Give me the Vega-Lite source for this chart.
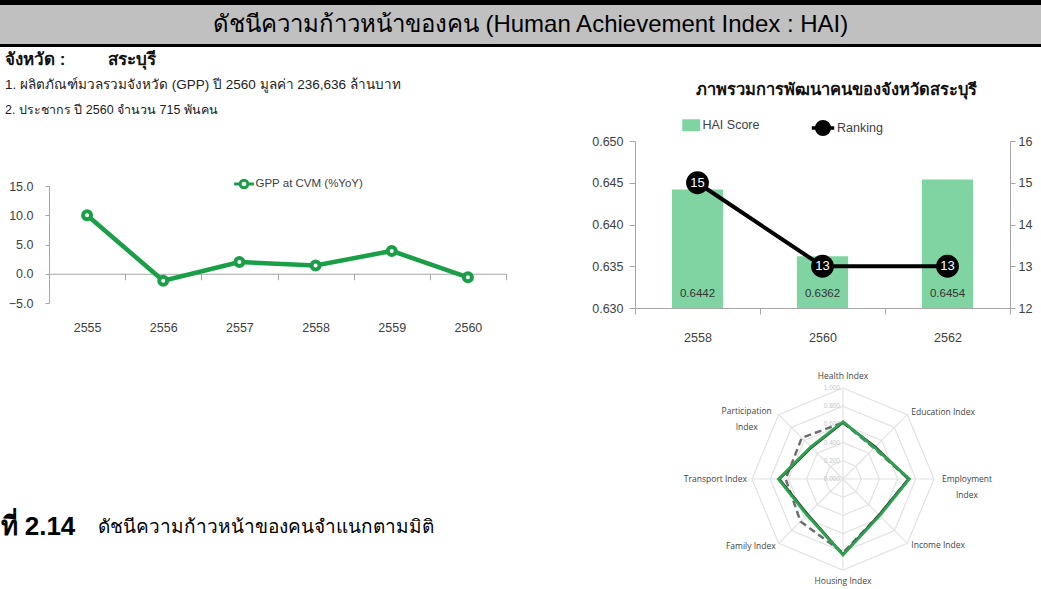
{
  "$schema": "https://vega.github.io/schema/vega-lite/v6.json",
  "padding": 0,
  "background": "white",
  "bounds": "flush",
  "spacing": 0,
  "resolve": {"scale": {"stroke": "independent", "fill": "independent"}, "legend": {"stroke": "independent", "fill": "independent"}},
  "config": {
    "view": {"stroke": null},
    "font": "Liberation Sans, sans-serif",
    "axis": {"grid": false, "labelFont": "Liberation Sans Narrow, Liberation Sans, sans-serif", "titleFont": "Liberation Sans, sans-serif"},
    "legend": {"labelFont": "Liberation Sans Narrow, Liberation Sans, sans-serif"}
  },
  "vconcat": [
    {
      "width": 1041,
      "height": 47,
      "view": {"fill": "#000000", "stroke": null},
      "data": {"values": [{"title": "ดัชนีความก้าวหน้าของคน (Human Achievement Index : HAI)"}]},
      "layer": [
        {
          "mark": {"type": "rect", "color": "#c0c0c0"},
          "encoding": {
            "y": {"datum": 5, "type": "quantitative", "scale": {"domain": [0, 47], "reverse": true, "nice": false, "zero": false}, "axis": null},
            "y2": {"datum": 44}
          }
        },
        {
          "mark": {"type": "text", "fontSize": 24, "color": "#000000", "dx": 10, "dy": 1, "baseline": "middle", "font": "Liberation Sans, sans-serif"},
          "encoding": {"text": {"field": "title", "type": "nominal"}}
        }
      ]
    },
    {
      "hconcat": [
        {
          "vconcat": [
            {
              "width": 10, "height": 26,
              "data": {"values": [{"t": "จังหวัด :\u00a0\u00a0\u00a0\u00a0\u00a0\u00a0\u00a0\u00a0\u00a0สระบุรี"}]},
              "mark": {"type": "text", "align": "left", "baseline": "middle", "fontSize": 17, "fontWeight": "bold", "color": "#111111"},
              "encoding": {"text": {"field": "t", "type": "nominal"}}
            },
            {
              "width": 10, "height": 24,
              "data": {"values": [{"t": "1. ผลิตภัณฑ์มวลรวมจังหวัด (GPP) ปี 2560 มูลค่า 236,636 ล้านบาท"}]},
              "mark": {"type": "text", "align": "left", "baseline": "middle", "fontSize": 13.5, "color": "#222222"},
              "encoding": {"text": {"field": "t", "type": "nominal"}}
            },
            {
              "width": 10, "height": 26,
              "data": {"values": [{"t": "2. ประชากร ปี 2560 จำนวน 715 พันคน"}]},
              "mark": {"type": "text", "align": "left", "baseline": "middle", "fontSize": 12.5, "color": "#222222"},
              "encoding": {"text": {"field": "t", "type": "nominal"}}
            },
            {"width": 1, "height": 63, "data": {"values": []}, "mark": "point"},
            {
              "hconcat": [
                {"width": 49, "height": 117, "data": {"values": []}, "mark": "point"},
                {
                  "width": 457,
                  "height": 117,
                  "data": {"values": [
                    {"year": "2555", "gpp": 10.0},
                    {"year": "2556", "gpp": -1.2},
                    {"year": "2557", "gpp": 2.0},
                    {"year": "2558", "gpp": 1.4},
                    {"year": "2559", "gpp": 3.9},
                    {"year": "2560", "gpp": -0.6}
                  ]},
                  "encoding": {
                    "x": {
                      "field": "year", "type": "ordinal",
                      "scale": {"type": "band", "paddingInner": 0, "paddingOuter": 0},
                      "axis": {"title": null, "labelAngle": 0, "offset": -29.25, "domainColor": "#a6a6a6", "tickColor": "#a6a6a6", "tickSize": 6, "tickBand": "extent", "labelPadding": 42, "labelFontSize": 12.5, "labelColor": "#404040"}
                    },
                    "y": {
                      "field": "gpp", "type": "quantitative",
                      "scale": {"domain": [-5, 15], "nice": false},
                      "axis": {"title": null, "values": [-5, 0, 5, 10, 15], "format": ".1f", "domainColor": "#a6a6a6", "tickColor": "#a6a6a6", "tickSize": 4, "labelPadding": 12, "labelFontSize": 12.5, "labelColor": "#404040"}
                    }
                  },
                  "layer": [
                    {
                      "mark": {"type": "line", "strokeWidth": 4.5},
                      "encoding": {
                        "stroke": {
                          "datum": "GPP at CVM (%YoY)", "type": "nominal",
                          "scale": {"range": ["#1a9f48"]},
                          "legend": {
                            "orient": "none", "legendX": 188, "legendY": -9, "title": null,
                            "symbolType": "M-1.8,0H-0.7M0.7,0H1.8M0.7,0A0.7,0.7 0 1,1 -0.7,0A0.7,0.7 0 1,1 0.7,0Z",
                            "symbolSize": 121, "symbolStrokeWidth": 3, "symbolFillColor": "white", "labelOffset": 4.5,
                            "labelFontSize": 11.5, "labelColor": "#404040"
                          }
                        }
                      }
                    },
                    {
                      "mark": {"type": "point", "shape": "circle", "filled": true, "fill": "white", "stroke": "#1a9f48", "strokeWidth": 4, "size": 64, "opacity": 1}
                    }
                  ]
                }
              ],
              "spacing": 0,
              "bounds": "flush",
              "resolve": {"scale": {"stroke": "independent", "fill": "independent"}, "legend": {"stroke": "independent", "fill": "independent"}}
            },
            {"width": 1, "height": 324, "data": {"values": []}, "mark": "point"},
            {
              "hconcat": [
                {
                  "width": 1, "height": 34,
                  "data": {"values": [{"t": "ที่ 2.14"}]},
                  "mark": {"type": "text", "align": "left", "baseline": "middle", "fontSize": 26, "fontWeight": "bold", "color": "#000000"},
                  "encoding": {"text": {"field": "t", "type": "nominal"}}
                },
                {
                  "width": 1, "height": 34,
                  "data": {"values": [{"t": "ดัชนีความก้าวหน้าของคนจำแนกตามมิติ"}]},
                  "mark": {"type": "text", "align": "left", "baseline": "middle", "fontSize": 19, "color": "#000000"},
                  "encoding": {"text": {"field": "t", "type": "nominal"}}
                }
              ],
              "spacing": 96,
              "bounds": "flush"
            }
          ],
          "spacing": 0,
          "bounds": "flush",
          "resolve": {"scale": {"stroke": "independent", "fill": "independent"}, "legend": {"stroke": "independent", "fill": "independent"}}
        },
        {
          "vconcat": [
            {"width": 1, "height": 30, "data": {"values": []}, "mark": "point"},
            {
              "width": 402, "height": 26,
              "data": {"values": [{"t": "ภาพรวมการพัฒนาคนของจังหวัดสระบุรี"}]},
              "mark": {"type": "text", "align": "center", "baseline": "middle", "fontSize": 16.5, "fontWeight": "bold", "color": "#111111"},
              "encoding": {"text": {"field": "t", "type": "nominal"}}
            },
            {"width": 1, "height": 38, "data": {"values": []}, "mark": "point"},
            {
              "width": 375,
              "height": 167,
              "data": {"values": [
                {"year": "2558", "hai": 0.6442, "rank": 15},
                {"year": "2560", "hai": 0.6362, "rank": 13},
                {"year": "2562", "hai": 0.6454, "rank": 13}
              ]},
              "encoding": {
                "x": {
                  "field": "year", "type": "ordinal",
                  "scale": {"type": "band", "paddingInner": 0, "paddingOuter": 0},
                  "axis": {"title": null, "labelAngle": 0, "domainColor": "#a6a6a6", "tickColor": "#a6a6a6", "tickSize": 6, "tickBand": "extent", "labelPadding": 17, "labelFontSize": 12.5, "labelColor": "#404040"}
                }
              },
              "layer": [
                {
                  "layer": [
                    {
                      "mark": {"type": "bar", "width": {"band": 0.41}},
                      "encoding": {
                        "y": {
                          "field": "hai", "type": "quantitative",
                          "scale": {"domain": [0.63, 0.65], "zero": false, "nice": false},
                          "axis": {"orient": "left", "title": null, "values": [0.63, 0.635, 0.64, 0.645, 0.65], "format": ".3f", "domainColor": "#a6a6a6", "tickColor": "#a6a6a6", "tickSize": 6, "labelPadding": 6, "labelFontSize": 12.5, "labelColor": "#404040"}
                        },
                        "y2": {"datum": 0.63},
                        "fill": {
                          "datum": "HAI Score", "type": "nominal",
                          "scale": {"range": ["#7fd4a2"]},
                          "legend": {
                            "orient": "none", "legendX": 50, "legendY": -22, "title": null,
                            "symbolType": "M-1.5,-1H1.5V1H-1.5Z", "symbolSize": 144, "symbolStrokeWidth": 0,
                            "labelOffset": 5, "labelFontSize": 12.5, "labelColor": "#404040"
                          }
                        }
                      }
                    },
                    {
                      "mark": {"type": "text", "baseline": "bottom", "dy": -9, "fontSize": 11.5, "color": "#333333"},
                      "encoding": {
                        "y": {"datum": 0.63, "type": "quantitative"},
                        "text": {"field": "hai", "type": "quantitative", "format": ".4f"}
                      }
                    }
                  ]
                },
                {
                  "layer": [
                    {
                      "mark": {"type": "line", "strokeWidth": 4},
                      "encoding": {
                        "y": {
                          "field": "rank", "type": "quantitative",
                          "scale": {"domain": [12, 16], "zero": false, "nice": false},
                          "axis": {"orient": "right", "title": null, "values": [12, 13, 14, 15, 16], "format": "d", "domainColor": "#a6a6a6", "tickColor": "#a6a6a6", "tickSize": 5, "labelPadding": 3, "labelFontSize": 12.5, "labelColor": "#404040"}
                        },
                        "stroke": {
                          "datum": "Ranking", "type": "nominal",
                          "scale": {"range": ["#000000"]},
                          "legend": {
                            "orient": "none", "legendX": 179, "legendY": -22, "title": null,
                            "symbolType": "M-1.6,0H1.6M0.9,0A0.9,0.9 0 1,1 -0.9,0A0.9,0.9 0 1,1 0.9,0Z",
                            "symbolSize": 196, "symbolStrokeWidth": 3.5, "symbolFillColor": "#000000",
                            "labelOffset": 5, "labelFontSize": 12.5, "labelColor": "#404040"
                          }
                        }
                      }
                    },
                    {
                      "mark": {"type": "circle", "size": 520, "color": "#000000", "opacity": 1},
                      "encoding": {"y": {"field": "rank", "type": "quantitative"}}
                    },
                    {
                      "mark": {"type": "text", "color": "white", "fontSize": 13, "baseline": "middle"},
                      "encoding": {
                        "y": {"field": "rank", "type": "quantitative"},
                        "text": {"field": "rank", "type": "quantitative"}
                      }
                    }
                  ]
                }
              ],
              "resolve": {"scale": {"y": "independent"}}
            },
            {"width": 1, "height": 45, "data": {"values": []}, "mark": "point"},
            {
              "width": 375,
              "height": 236,
              "layer": [
                {
                  "data": {"values": [
                    {"level": 0.2, "k": [0, 1, 2, 3, 4, 5, 6, 7]},
                    {"level": 0.4, "k": [0, 1, 2, 3, 4, 5, 6, 7]},
                    {"level": 0.6, "k": [0, 1, 2, 3, 4, 5, 6, 7]},
                    {"level": 0.8, "k": [0, 1, 2, 3, 4, 5, 6, 7]},
                    {"level": 1.0, "k": [0, 1, 2, 3, 4, 5, 6, 7]}
                  ]},
                  "transform": [
                    {"flatten": ["k"]},
                    {"calculate": "datum.level * sin(datum.k * PI / 4)", "as": "gx"},
                    {"calculate": "datum.level * cos(datum.k * PI / 4)", "as": "gy"}
                  ],
                  "mark": {"type": "line", "interpolate": "linear-closed", "color": "#e2e2e2", "strokeWidth": 1.2},
                  "encoding": {
                    "x": {"field": "gx", "type": "quantitative", "scale": {"domain": [-2.2857, 1.8352], "nice": false, "zero": false}, "axis": null},
                    "y": {"field": "gy", "type": "quantitative", "scale": {"domain": [-1.2088, 1.3846], "nice": false, "zero": false}, "axis": null},
                    "detail": {"field": "level", "type": "nominal"},
                    "order": {"field": "k", "type": "quantitative"}
                  }
                },
                {
                  "data": {"values": [{"k": 0}, {"k": 1}, {"k": 2}, {"k": 3}, {"k": 4}, {"k": 5}, {"k": 6}, {"k": 7}]},
                  "transform": [
                    {"calculate": "sin(datum.k * PI / 4)", "as": "sx"},
                    {"calculate": "cos(datum.k * PI / 4)", "as": "sy"},
                    {"calculate": "0", "as": "zero"}
                  ],
                  "mark": {"type": "rule", "color": "#e2e2e2", "strokeWidth": 1.2},
                  "encoding": {
                    "x": {"field": "zero", "type": "quantitative"},
                    "y": {"field": "zero", "type": "quantitative"},
                    "x2": {"field": "sx"},
                    "y2": {"field": "sy"}
                  }
                },
                {
                  "data": {"values": [
                    {"level": 0.0, "t": "0.000"},
                    {"level": 0.2, "t": "0.200"},
                    {"level": 0.4, "t": "0.400"},
                    {"level": 0.6, "t": "0.600"},
                    {"level": 0.8, "t": "0.800"},
                    {"level": 1.0, "t": "1.000"}
                  ]},
                  "transform": [{"calculate": "0", "as": "zero"}],
                  "mark": {"type": "text", "align": "right", "baseline": "middle", "dx": -3, "fontSize": 6.5, "color": "#c6c6c6"},
                  "encoding": {
                    "x": {"field": "zero", "type": "quantitative"},
                    "y": {"field": "level", "type": "quantitative"},
                    "text": {"field": "t", "type": "nominal"}
                  }
                },
                {
                  "data": {"name": "radar"},
                  "transform": [
                    {"filter": "datum.series == 'dashed'"},
                    {"calculate": "datum.v * sin(datum.k * PI / 4)", "as": "px"},
                    {"calculate": "datum.v * cos(datum.k * PI / 4)", "as": "py"}
                  ],
                  "mark": {"type": "line", "interpolate": "linear-closed", "color": "#6e6e6e", "strokeWidth": 2.5, "strokeDash": [7, 4]},
                  "encoding": {
                    "x": {"field": "px", "type": "quantitative"},
                    "y": {"field": "py", "type": "quantitative"},
                    "order": {"field": "k", "type": "quantitative"}
                  }
                },
                {
                  "data": {"name": "radar"},
                  "transform": [
                    {"filter": "datum.series == 'dark'"},
                    {"calculate": "datum.v * sin(datum.k * PI / 4)", "as": "px"},
                    {"calculate": "datum.v * cos(datum.k * PI / 4)", "as": "py"}
                  ],
                  "mark": {"type": "line", "interpolate": "linear-closed", "color": "#2b3a2e", "strokeWidth": 2.5},
                  "encoding": {
                    "x": {"field": "px", "type": "quantitative"},
                    "y": {"field": "py", "type": "quantitative"},
                    "order": {"field": "k", "type": "quantitative"}
                  }
                },
                {
                  "data": {"name": "radar"},
                  "transform": [
                    {"filter": "datum.series == 'green'"},
                    {"calculate": "datum.v * sin(datum.k * PI / 4)", "as": "px"},
                    {"calculate": "datum.v * cos(datum.k * PI / 4)", "as": "py"}
                  ],
                  "mark": {"type": "line", "interpolate": "linear-closed", "color": "#2ca24f", "strokeWidth": 2.8},
                  "encoding": {
                    "x": {"field": "px", "type": "quantitative"},
                    "y": {"field": "py", "type": "quantitative"},
                    "order": {"field": "k", "type": "quantitative"}
                  }
                },
                {
                  "data": {"name": "labels"},
                  "transform": [
                    {"filter": "datum.k == 0"},
                    {"calculate": "sin(datum.k * PI / 4)", "as": "lx"},
                    {"calculate": "cos(datum.k * PI / 4)", "as": "ly"}
                  ],
                  "mark": {"type": "text", "align": "center", "baseline": "middle", "dy": -12, "fontSize": 8.5, "color": "#444444", "font": "Open Sans, sans-serif"},
                  "encoding": {"x": {"field": "lx", "type": "quantitative"}, "y": {"field": "ly", "type": "quantitative"}, "text": {"field": "label", "type": "nominal"}}
                },
                {
                  "data": {"name": "labels"},
                  "transform": [
                    {"filter": "datum.k == 4"},
                    {"calculate": "sin(datum.k * PI / 4)", "as": "lx"},
                    {"calculate": "cos(datum.k * PI / 4)", "as": "ly"}
                  ],
                  "mark": {"type": "text", "align": "center", "baseline": "middle", "dy": 11, "fontSize": 8.5, "color": "#444444", "font": "Open Sans, sans-serif"},
                  "encoding": {"x": {"field": "lx", "type": "quantitative"}, "y": {"field": "ly", "type": "quantitative"}, "text": {"field": "label", "type": "nominal"}}
                },
                {
                  "data": {"name": "labels"},
                  "transform": [
                    {"filter": "datum.k == 1"},
                    {"calculate": "sin(datum.k * PI / 4)", "as": "lx"},
                    {"calculate": "cos(datum.k * PI / 4)", "as": "ly"}
                  ],
                  "mark": {"type": "text", "align": "left", "baseline": "middle", "dx": 4, "dy": -3, "fontSize": 8.5, "color": "#444444", "font": "Open Sans, sans-serif"},
                  "encoding": {"x": {"field": "lx", "type": "quantitative"}, "y": {"field": "ly", "type": "quantitative"}, "text": {"field": "label", "type": "nominal"}}
                },
                {
                  "data": {"name": "labels"},
                  "transform": [
                    {"filter": "datum.k == 3"},
                    {"calculate": "sin(datum.k * PI / 4)", "as": "lx"},
                    {"calculate": "cos(datum.k * PI / 4)", "as": "ly"}
                  ],
                  "mark": {"type": "text", "align": "left", "baseline": "middle", "dx": 4, "dy": 2, "fontSize": 8.5, "color": "#444444", "font": "Open Sans, sans-serif"},
                  "encoding": {"x": {"field": "lx", "type": "quantitative"}, "y": {"field": "ly", "type": "quantitative"}, "text": {"field": "label", "type": "nominal"}}
                },
                {
                  "data": {"name": "labels"},
                  "transform": [
                    {"filter": "datum.k == 5"},
                    {"calculate": "sin(datum.k * PI / 4)", "as": "lx"},
                    {"calculate": "cos(datum.k * PI / 4)", "as": "ly"}
                  ],
                  "mark": {"type": "text", "align": "right", "baseline": "middle", "dx": -3, "dy": 3, "fontSize": 8.5, "color": "#444444", "font": "Open Sans, sans-serif"},
                  "encoding": {"x": {"field": "lx", "type": "quantitative"}, "y": {"field": "ly", "type": "quantitative"}, "text": {"field": "label", "type": "nominal"}}
                },
                {
                  "data": {"name": "labels"},
                  "transform": [
                    {"filter": "datum.k == 6"},
                    {"calculate": "sin(datum.k * PI / 4)", "as": "lx"},
                    {"calculate": "cos(datum.k * PI / 4)", "as": "ly"}
                  ],
                  "mark": {"type": "text", "align": "right", "baseline": "middle", "dx": -5, "fontSize": 8.5, "color": "#444444", "font": "Open Sans, sans-serif"},
                  "encoding": {"x": {"field": "lx", "type": "quantitative"}, "y": {"field": "ly", "type": "quantitative"}, "text": {"field": "label", "type": "nominal"}}
                },
                {
                  "data": {"name": "labels"},
                  "transform": [
                    {"filter": "datum.k == 2"},
                    {"calculate": "sin(datum.k * PI / 4)", "as": "lx"},
                    {"calculate": "cos(datum.k * PI / 4)", "as": "ly"}
                  ],
                  "mark": {"type": "text", "align": "center", "baseline": "middle", "dx": 33, "lineBreak": "\n", "lineHeight": 16, "fontSize": 8.5, "color": "#444444", "font": "Open Sans, sans-serif"},
                  "encoding": {"x": {"field": "lx", "type": "quantitative"}, "y": {"field": "ly", "type": "quantitative"}, "text": {"field": "label", "type": "nominal"}}
                },
                {
                  "data": {"name": "labels"},
                  "transform": [
                    {"filter": "datum.k == 7"},
                    {"calculate": "sin(datum.k * PI / 4)", "as": "lx"},
                    {"calculate": "cos(datum.k * PI / 4)", "as": "ly"}
                  ],
                  "mark": {"type": "text", "align": "center", "baseline": "middle", "dx": -32, "dy": -4, "lineBreak": "\n", "lineHeight": 16, "fontSize": 8.5, "color": "#444444", "font": "Open Sans, sans-serif"},
                  "encoding": {"x": {"field": "lx", "type": "quantitative"}, "y": {"field": "ly", "type": "quantitative"}, "text": {"field": "label", "type": "nominal"}}
                }
              ]
            }
          ],
          "spacing": 0,
          "bounds": "flush",
          "resolve": {"scale": {"stroke": "independent", "fill": "independent"}, "legend": {"stroke": "independent", "fill": "independent"}}
        }
      ],
      "spacing": 635,
      "bounds": "flush",
      "resolve": {"scale": {"stroke": "independent", "fill": "independent"}, "legend": {"stroke": "independent", "fill": "independent"}}
    }
  ],
  "datasets": {
    "radar": [
      {"series": "green", "k": 0, "v": 0.63},
      {"series": "green", "k": 1, "v": 0.49},
      {"series": "green", "k": 2, "v": 0.73},
      {"series": "green", "k": 3, "v": 0.57},
      {"series": "green", "k": 4, "v": 0.835},
      {"series": "green", "k": 5, "v": 0.56},
      {"series": "green", "k": 6, "v": 0.71},
      {"series": "green", "k": 7, "v": 0.5},
      {"series": "dark", "k": 0, "v": 0.62},
      {"series": "dark", "k": 1, "v": 0.5},
      {"series": "dark", "k": 2, "v": 0.72},
      {"series": "dark", "k": 3, "v": 0.56},
      {"series": "dark", "k": 4, "v": 0.83},
      {"series": "dark", "k": 5, "v": 0.55},
      {"series": "dark", "k": 6, "v": 0.7},
      {"series": "dark", "k": 7, "v": 0.49},
      {"series": "dashed", "k": 0, "v": 0.62},
      {"series": "dashed", "k": 1, "v": 0.48},
      {"series": "dashed", "k": 2, "v": 0.72},
      {"series": "dashed", "k": 3, "v": 0.56},
      {"series": "dashed", "k": 4, "v": 0.81},
      {"series": "dashed", "k": 5, "v": 0.66},
      {"series": "dashed", "k": 6, "v": 0.63},
      {"series": "dashed", "k": 7, "v": 0.64}
    ],
    "labels": [
      {"k": 0, "label": "Health Index"},
      {"k": 1, "label": "Education Index"},
      {"k": 2, "label": "Employment\nIndex"},
      {"k": 3, "label": "Income Index"},
      {"k": 4, "label": "Housing Index"},
      {"k": 5, "label": "Family Index"},
      {"k": 6, "label": "Transport Index"},
      {"k": 7, "label": "Participation\nIndex"}
    ]
  }
}
